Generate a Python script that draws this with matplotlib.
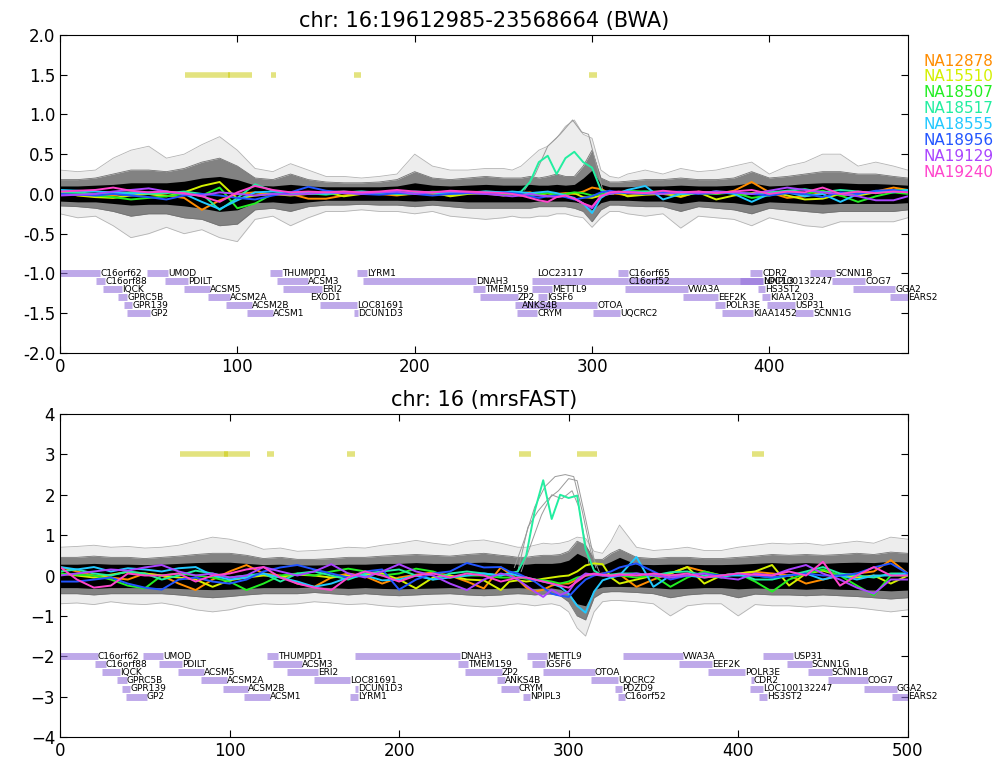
import numpy as np
import matplotlib.pyplot as plt

# sample names / colours
samples = ['NA12878', 'NA15510', 'NA18507', 'NA18517', 'NA18555', 'NA18956', 'NA19129', 'NA19240']
colors = ['#ff8c00', '#d4f000', '#22ee22', '#22eea0', '#22c8ff', '#2255ff', '#aa44ff', '#ff44cc']

# ---------------- top panel (BWA) ----------------
xt = list(range(0, 251, 10)) + list(range(255, 321, 5)) + list(range(330, 471, 10)) + [478]

top_outer_hi = [0.30,0.28,0.30,0.45,0.55,0.60,0.45,0.50,0.62,0.72,0.55,0.32,0.28,0.38,0.30,0.22,0.22,0.20,0.22,0.25,0.50,0.35,0.30,0.30,0.32,0.32,0.30,0.35,0.45,0.55,0.60,0.70,0.85,0.93,0.75,0.70,0.30,0.22,0.20,0.25,0.30,0.25,0.32,0.28,0.30,0.35,0.40,0.25,0.35,0.40,0.50,0.50,0.35,0.40,0.35,0.30]
top_outer_lo = [-0.25,-0.30,-0.28,-0.40,-0.55,-0.50,-0.42,-0.50,-0.45,-0.55,-0.60,-0.32,-0.28,-0.40,-0.30,-0.22,-0.22,-0.20,-0.22,-0.22,-0.25,-0.22,-0.28,-0.30,-0.32,-0.30,-0.28,-0.30,-0.30,-0.28,-0.28,-0.25,-0.25,-0.28,-0.30,-0.42,-0.30,-0.22,-0.22,-0.25,-0.28,-0.25,-0.43,-0.28,-0.30,-0.32,-0.40,-0.30,-0.35,-0.40,-0.42,-0.35,-0.35,-0.35,-0.35,-0.30]
top_mid_hi = [0.18,0.18,0.20,0.25,0.30,0.30,0.28,0.32,0.40,0.45,0.35,0.20,0.18,0.25,0.18,0.15,0.14,0.14,0.15,0.18,0.28,0.20,0.18,0.20,0.22,0.20,0.20,0.20,0.22,0.20,0.22,0.25,0.22,0.22,0.35,0.55,0.20,0.15,0.15,0.16,0.18,0.18,0.20,0.18,0.18,0.20,0.28,0.20,0.22,0.25,0.28,0.28,0.25,0.25,0.22,0.20]
top_mid_lo = [-0.15,-0.16,-0.18,-0.22,-0.28,-0.25,-0.25,-0.30,-0.32,-0.40,-0.38,-0.20,-0.18,-0.22,-0.16,-0.14,-0.14,-0.13,-0.14,-0.14,-0.16,-0.14,-0.16,-0.18,-0.18,-0.18,-0.18,-0.18,-0.18,-0.16,-0.16,-0.16,-0.16,-0.18,-0.22,-0.35,-0.20,-0.14,-0.14,-0.15,-0.16,-0.16,-0.22,-0.16,-0.18,-0.20,-0.25,-0.18,-0.20,-0.22,-0.24,-0.22,-0.22,-0.22,-0.22,-0.20]
top_core_hi = [0.10,0.10,0.11,0.12,0.14,0.14,0.14,0.16,0.20,0.22,0.18,0.11,0.10,0.12,0.10,0.09,0.09,0.09,0.09,0.10,0.14,0.11,0.10,0.11,0.12,0.11,0.11,0.11,0.12,0.11,0.11,0.12,0.11,0.12,0.20,0.30,0.12,0.09,0.09,0.09,0.10,0.10,0.11,0.10,0.10,0.11,0.14,0.10,0.11,0.13,0.14,0.14,0.13,0.13,0.12,0.11]
top_core_lo = [-0.09,-0.10,-0.10,-0.12,-0.14,-0.13,-0.13,-0.15,-0.18,-0.22,-0.20,-0.11,-0.10,-0.12,-0.10,-0.08,-0.08,-0.08,-0.08,-0.08,-0.09,-0.08,-0.09,-0.10,-0.10,-0.10,-0.10,-0.10,-0.10,-0.09,-0.09,-0.09,-0.09,-0.10,-0.12,-0.20,-0.11,-0.08,-0.08,-0.08,-0.09,-0.09,-0.12,-0.09,-0.10,-0.11,-0.14,-0.10,-0.11,-0.12,-0.13,-0.12,-0.12,-0.12,-0.12,-0.11]

top_NA12878 = [0.02,0.00,-0.03,-0.02,0.01,0.00,-0.02,-0.05,-0.20,-0.08,0.00,0.02,-0.01,0.00,-0.06,-0.06,-0.02,0.01,0.00,-0.02,0.01,0.00,-0.02,0.01,0.00,-0.01,0.00,0.01,0.02,-0.01,-0.02,0.00,0.01,0.00,0.03,0.08,0.06,0.01,0.00,-0.02,0.00,0.02,-0.04,0.03,0.00,0.04,0.15,0.02,-0.05,-0.03,0.02,-0.02,0.01,0.03,0.08,0.05]
top_NA15510 = [0.03,-0.02,-0.04,-0.05,-0.02,0.00,-0.03,0.02,0.10,0.15,-0.06,-0.02,0.00,-0.02,0.00,0.02,-0.03,0.00,0.02,-0.01,0.00,0.02,-0.03,0.00,0.01,-0.02,0.00,-0.02,0.01,0.00,-0.03,-0.01,0.00,0.01,-0.04,-0.05,-0.02,0.00,0.02,-0.03,-0.01,0.00,-0.03,0.02,-0.07,-0.02,0.01,0.03,-0.02,-0.07,-0.06,0.00,-0.02,0.02,0.05,0.03]
top_NA18507 = [0.00,0.01,-0.02,-0.04,-0.07,-0.05,-0.03,0.00,-0.02,0.08,-0.18,-0.12,0.00,0.02,0.01,-0.01,0.02,0.03,0.01,0.02,0.00,0.03,0.02,0.01,0.02,0.00,-0.01,0.00,-0.02,0.00,0.01,-0.01,0.00,0.02,0.01,-0.02,0.00,0.01,0.02,0.04,0.03,0.03,0.02,0.01,0.00,0.02,-0.05,-0.02,0.03,0.00,0.04,-0.02,-0.10,-0.03,0.02,0.00]
top_NA18517 = [0.03,0.02,0.00,0.01,0.02,0.00,0.01,0.03,0.00,-0.20,-0.05,0.12,0.04,0.01,0.00,0.02,0.03,0.01,0.02,0.00,0.01,0.02,0.00,0.01,0.03,0.02,0.01,0.03,0.15,0.40,0.48,0.25,0.45,0.53,0.40,0.33,0.05,0.00,0.02,0.01,0.03,0.02,0.00,0.01,0.03,0.02,0.00,0.02,0.04,0.06,0.02,0.05,0.03,0.01,0.04,0.05]
top_NA18555 = [0.05,0.04,0.03,0.02,0.00,0.02,0.03,0.00,-0.10,-0.19,-0.08,0.02,0.03,0.02,0.01,0.00,0.02,0.03,0.02,0.01,0.03,0.02,0.01,0.02,0.03,0.02,0.03,0.02,0.01,0.02,0.03,0.01,-0.02,-0.05,-0.12,-0.24,-0.05,0.02,0.01,0.05,0.10,-0.07,0.00,0.01,0.03,0.00,-0.10,0.00,0.02,-0.03,0.00,-0.10,0.00,0.03,0.02,0.05]
top_NA18956 = [0.00,-0.01,-0.02,0.00,-0.02,-0.04,-0.07,-0.02,0.00,-0.02,-0.05,-0.07,-0.02,0.02,0.09,0.04,0.02,0.00,-0.01,0.01,0.00,-0.02,0.00,0.01,0.00,0.02,0.01,0.00,-0.03,-0.05,-0.03,-0.02,-0.04,-0.07,-0.05,-0.03,0.02,0.04,0.02,0.01,0.00,0.02,0.03,0.00,0.01,0.02,0.00,-0.02,0.01,0.00,-0.04,0.02,0.00,0.04,0.05,0.02]
top_NA19129 = [-0.02,-0.01,0.00,0.03,0.05,0.07,0.03,0.00,-0.02,0.02,0.00,-0.02,0.00,-0.01,0.00,0.02,0.01,0.00,0.02,0.03,0.00,0.02,0.03,0.02,0.00,-0.02,-0.03,-0.02,0.00,-0.02,-0.03,-0.04,-0.02,-0.06,-0.12,-0.18,-0.02,0.00,0.02,0.03,0.01,0.00,0.02,0.01,0.03,0.02,0.00,0.04,0.08,0.05,0.02,0.00,-0.03,-0.08,-0.08,-0.03]
top_NA19240 = [0.03,0.04,0.05,0.08,0.04,0.02,0.03,0.01,-0.03,-0.10,0.02,0.10,0.05,0.02,0.03,0.02,0.03,0.02,0.03,0.05,0.03,0.02,0.04,0.03,0.02,0.01,0.00,-0.02,-0.05,-0.08,-0.10,-0.04,-0.02,-0.06,-0.12,-0.16,-0.03,0.02,0.03,0.02,0.01,0.04,0.02,0.03,0.01,0.03,0.05,0.00,0.03,0.02,0.08,0.00,0.03,0.01,0.03,0.02]

# single high grey trace near the NA18517 gain
top_spike_x = [262, 268, 275, 282, 289, 294, 298, 302, 306, 312]
top_spike_y = [0.05, 0.25, 0.60, 0.75, 0.93, 0.78, 0.75, 0.40, 0.05, 0.00]

top_seg_start = [70.5, 95, 119, 166, 298]
top_seg_end = [96, 108.3, 122, 170, 303]

top_gene_names = ['C16orf62', 'UMOD', 'THUMPD1', 'LYRM1', 'LOC23117', 'C16orf65', 'CDR2', 'SCNN1B',
                  'C16orf88', 'PDILT', 'ACSM3', 'DNAH3', 'C16orf52', 'NPIPL3', 'LOC100132247', 'COG7',
                  'IQCK', 'ACSM5', 'ERI2', 'TMEM159', 'METTL9', 'VWA3A', 'HS3ST2', 'GGA2',
                  'GPRC5B', 'ACSM2A', 'EXOD1', 'ZP2', 'IGSF6', 'EEF2K', 'KIAA1203', 'EARS2',
                  'GPR139', 'ACSM2B', 'LOC81691', 'ANKS4B', 'OTOA', 'POLR3E', 'USP31',
                  'GP2', 'ACSM1', 'DCUN1D3', 'CRYM', 'UQCRC2', 'KIAA1452', 'SCNN1G']
top_gene_rows = [0]*8 + [1]*8 + [2]*8 + [3]*8 + [4]*7 + [5]*7
top_gene_start = [0, 49.1, 118.4, 167.5, 269, 314.7, 389.2, 423,
                  20.3, 59.2, 122.4, 170.9, 266.2, 320.4, 383.5, 435.4,
                  24.3, 69.9, 125.8, 232.9, 266.2, 318.7, 393.7, 447.3,
                  32.7, 83.5, 141, 236.9, 269.6, 351.4, 396, 468.1,
                  36.1, 93.6, 146.6, 256.6, 260.6, 369.4, 398.8,
                  37.8, 105.5, 165.8, 257.8, 300.6, 373.4, 414.6]
top_gene_end = [22.6, 60.9, 125.2, 173.2, 269, 320.4, 396, 437.1,
                25.4, 72.2, 139.9, 234.6, 320.4, 396.5, 396.5, 454,
                35, 84.6, 147.8, 239.7, 277.5, 354.2, 397.6, 470.9,
                37.8, 95.9, 141, 258.3, 274.7, 371.1, 400.5, 478.3,
                40.6, 108.3, 167.5, 260.6, 302.9, 375.1, 414.6,
                50.8, 120.1, 168.1, 269, 315.8, 390.9, 424.7]

# ---------------- bottom panel (mrsFAST) ----------------
xb = list(range(0, 261, 10)) + list(range(265, 331, 5)) + list(range(340, 501, 10))

bot_outer_hi = [0.70,0.72,0.75,0.70,0.72,0.68,0.70,0.75,0.85,0.95,0.90,0.80,0.65,0.68,0.60,0.62,0.65,0.70,0.68,0.75,0.80,0.87,0.80,0.75,0.85,0.88,0.80,0.75,0.70,0.70,0.75,0.80,0.78,0.80,0.85,0.95,0.92,0.60,0.55,0.85,1.25,0.70,0.62,0.65,0.70,0.62,0.62,0.70,0.75,0.80,0.78,0.80,0.75,0.80,0.85,0.80,0.95,0.90]
bot_outer_lo = [-0.70,-0.68,-0.72,-0.65,-0.70,-0.72,-0.68,-0.75,-0.85,-0.90,-0.85,-0.75,-0.70,-0.72,-0.70,-0.65,-0.68,-0.72,-0.70,-0.75,-0.78,-0.75,-0.72,-0.70,-0.75,-0.78,-0.75,-0.72,-0.70,-0.72,-0.75,-0.72,-0.70,-0.75,-0.90,-1.30,-1.50,-0.90,-0.65,-0.62,-0.62,-0.65,-0.70,-1.00,-0.75,-0.70,-0.70,-1.00,-0.72,-0.75,-0.75,-0.78,-0.75,-0.78,-0.80,-0.85,-0.90,-0.85]
bot_mid_hi = [0.45,0.45,0.48,0.45,0.45,0.42,0.45,0.48,0.52,0.55,0.55,0.50,0.42,0.45,0.40,0.40,0.42,0.45,0.45,0.48,0.50,0.52,0.50,0.48,0.52,0.55,0.50,0.48,0.45,0.45,0.48,0.50,0.50,0.52,0.60,0.85,0.75,0.40,0.40,0.55,0.65,0.45,0.42,0.45,0.45,0.42,0.42,0.45,0.48,0.52,0.50,0.52,0.50,0.52,0.55,0.52,0.58,0.55]
bot_mid_lo = [-0.45,-0.45,-0.48,-0.45,-0.45,-0.45,-0.45,-0.48,-0.52,-0.55,-0.52,-0.48,-0.45,-0.45,-0.45,-0.42,-0.45,-0.48,-0.45,-0.48,-0.50,-0.48,-0.46,-0.45,-0.48,-0.50,-0.48,-0.46,-0.45,-0.46,-0.48,-0.46,-0.46,-0.50,-0.65,-1.00,-1.10,-0.55,-0.42,-0.40,-0.40,-0.42,-0.45,-0.55,-0.48,-0.45,-0.45,-0.55,-0.46,-0.48,-0.48,-0.50,-0.48,-0.50,-0.52,-0.55,-0.58,-0.55]
bot_core_hi = [0.28,0.28,0.30,0.28,0.28,0.27,0.28,0.30,0.32,0.33,0.33,0.30,0.27,0.28,0.26,0.26,0.27,0.28,0.28,0.30,0.30,0.32,0.30,0.30,0.32,0.33,0.31,0.30,0.28,0.28,0.30,0.30,0.30,0.32,0.38,0.55,0.45,0.26,0.26,0.35,0.45,0.28,0.27,0.28,0.28,0.27,0.27,0.28,0.30,0.32,0.30,0.32,0.30,0.32,0.33,0.32,0.35,0.33]
bot_core_lo = [-0.30,-0.30,-0.32,-0.30,-0.30,-0.30,-0.30,-0.32,-0.34,-0.35,-0.34,-0.32,-0.30,-0.30,-0.30,-0.28,-0.30,-0.32,-0.30,-0.32,-0.33,-0.32,-0.31,-0.30,-0.32,-0.33,-0.32,-0.31,-0.30,-0.31,-0.32,-0.31,-0.31,-0.34,-0.45,-0.70,-0.75,-0.35,-0.28,-0.27,-0.27,-0.28,-0.30,-0.33,-0.32,-0.30,-0.30,-0.33,-0.31,-0.32,-0.32,-0.34,-0.32,-0.34,-0.35,-0.36,-0.38,-0.36]

bot_NA12878 = [0.21,0.10,0.00,-0.05,-0.10,0.05,0.00,-0.20,-0.36,-0.10,0.10,0.26,0.05,0.00,-0.20,-0.28,-0.05,0.05,-0.02,-0.20,-0.05,0.02,0.08,0.00,-0.15,-0.32,0.20,0.05,-0.10,-0.30,-0.40,-0.35,-0.25,-0.20,-0.20,-0.10,0.00,0.02,0.05,0.00,0.03,-0.28,-0.10,0.05,0.21,0.10,0.00,0.05,0.09,0.05,0.00,-0.20,-0.10,0.00,0.05,0.10,0.38,0.05]
bot_NA15510 = [0.05,0.00,-0.05,0.02,0.09,0.05,0.00,-0.05,-0.10,-0.28,-0.12,-0.05,0.00,-0.03,0.02,0.00,-0.05,0.00,0.02,0.05,-0.10,-0.32,-0.05,0.00,-0.10,-0.12,-0.36,-0.15,-0.12,-0.15,-0.12,-0.08,-0.05,-0.02,0.00,0.10,0.25,0.30,0.28,-0.05,-0.20,-0.10,0.00,0.05,0.21,-0.20,0.00,0.05,0.10,0.26,-0.25,0.05,0.12,0.00,-0.05,0.00,-0.20,0.00]
bot_NA18507 = [0.05,0.02,0.00,-0.10,-0.25,-0.32,0.00,0.05,0.00,-0.05,-0.15,-0.36,-0.20,0.00,0.05,0.00,0.10,0.17,0.10,0.00,0.05,0.17,0.10,-0.05,0.00,0.00,-0.05,-0.05,-0.05,-0.08,-0.10,-0.12,-0.15,-0.20,-0.15,-0.05,0.00,0.02,0.00,0.02,0.00,-0.05,0.00,-0.28,-0.05,0.10,0.00,0.05,-0.15,-0.40,-0.10,0.05,0.15,0.00,-0.25,-0.49,0.00,0.00]
bot_NA18517 = [0.10,0.15,0.05,0.00,0.10,0.05,-0.10,0.00,0.12,0.05,-0.05,0.00,0.05,-0.15,0.05,0.10,0.00,-0.10,0.05,0.10,0.15,0.00,-0.10,0.05,0.10,0.05,0.00,0.05,0.10,0.50,1.60,2.36,1.40,2.00,1.92,1.98,0.65,0.12,0.00,0.02,0.05,0.05,0.00,0.08,0.10,0.00,-0.05,0.05,-0.10,-0.10,0.00,0.10,0.21,0.05,0.00,-0.05,0.05,0.05]
bot_NA18555 = [0.21,0.15,0.21,0.10,0.18,0.15,0.10,0.18,0.21,0.00,-0.10,-0.05,0.05,-0.05,-0.15,-0.28,-0.20,-0.05,0.00,-0.12,-0.10,0.00,-0.10,-0.05,0.00,0.05,0.00,0.05,0.00,-0.05,-0.10,-0.15,-0.20,-0.28,-0.45,-0.75,-0.92,-0.40,-0.12,-0.05,0.00,0.46,-0.28,0.00,0.00,-0.05,0.00,0.00,0.00,-0.05,0.00,0.05,-0.10,0.00,-0.10,0.00,0.00,0.05]
bot_NA18956 = [-0.15,-0.15,-0.10,-0.05,-0.20,-0.30,-0.35,-0.10,-0.05,-0.15,-0.20,-0.10,0.10,0.20,0.26,0.15,0.05,-0.05,0.10,0.15,-0.35,-0.10,0.05,0.10,0.31,0.20,0.21,0.10,0.05,-0.05,-0.15,-0.30,-0.45,-0.50,-0.53,-0.30,-0.10,0.00,0.05,0.10,0.20,0.30,0.10,-0.10,0.00,0.05,0.00,0.05,0.00,-0.05,0.00,0.05,0.00,0.00,0.05,0.20,0.30,0.05]
bot_NA19129 = [0.00,0.05,0.10,0.15,0.12,0.20,0.26,0.10,0.00,0.05,-0.05,0.00,0.21,0.10,0.00,0.10,0.28,0.05,-0.05,0.10,0.28,0.10,0.00,-0.20,-0.36,-0.10,0.05,0.00,-0.10,-0.25,-0.40,-0.53,-0.35,-0.48,-0.40,-0.10,0.05,0.02,0.00,-0.02,0.00,0.05,0.00,-0.05,0.00,0.05,-0.05,-0.10,0.05,0.00,0.15,0.26,0.05,-0.10,-0.30,-0.45,-0.10,-0.10]
bot_NA19240 = [0.21,-0.10,-0.30,-0.25,0.05,0.00,0.00,0.05,-0.15,0.00,0.05,0.15,0.21,-0.05,-0.20,-0.30,-0.36,-0.05,0.10,0.00,-0.15,0.00,0.05,-0.05,0.05,0.00,-0.15,-0.10,-0.05,-0.05,-0.10,-0.15,-0.20,-0.25,-0.30,-0.15,0.00,0.05,0.02,0.00,0.03,0.00,0.05,0.00,0.05,-0.05,0.00,0.05,0.02,0.00,0.10,0.00,0.34,-0.25,0.00,0.21,0.00,0.00]

# grey traces that follow the NA18517 gain
bot_spike1_x = [268, 274, 280, 286, 292, 298, 303, 308, 313, 318]
bot_spike1_y = [0.20, 0.90, 1.70, 2.20, 2.45, 2.50, 2.45, 1.60, 0.60, 0.10]
bot_spike2_x = [270, 276, 282, 288, 294, 300, 305, 310, 316]
bot_spike2_y = [0.10, 1.20, 1.60, 1.90, 2.10, 2.40, 2.35, 1.40, 0.20]
bot_spike3_x = [272, 278, 284, 290, 296, 302, 306, 312]
bot_spike3_y = [0.10, 0.80, 1.50, 2.00, 1.90, 2.10, 1.70, 0.30]

bot_seg_start = [70.8, 97, 122, 169, 270.6, 305, 408]
bot_seg_end = [99, 112, 126, 174, 278, 317, 415]

bot_gene_names = ['C16orf62', 'UMOD', 'THUMPD1', 'DNAH3', 'METTL9', 'VWA3A', 'USP31',
                  'C16orf88', 'PDILT', 'ACSM3', 'TMEM159', 'IGSF6', 'EEF2K', 'SCNN1G',
                  'IQCK', 'ACSM5', 'ERI2', 'ZP2', 'OTOA', 'POLR3E', 'SCNN1B',
                  'GPRC5B', 'ACSM2A', 'LOC81691', 'ANKS4B', 'UQCRC2', 'CDR2', 'COG7',
                  'GPR139', 'ACSM2B', 'DCUN1D3', 'CRYM', 'PDZD9', 'LOC100132247', 'GGA2',
                  'GP2', 'ACSM1', 'LYRM1', 'NPIPL3', 'C16orf52', 'HS3ST2', 'EARS2']
bot_gene_rows = [0]*7 + [1]*7 + [2]*7 + [3]*7 + [4]*7 + [5]*7
bot_gene_start = [0, 48.9, 122, 173.9, 275.4, 332, 414.5,
                  20.6, 58.4, 125.6, 234.7, 278.3, 365, 428.7,
                  24.8, 69.6, 133.8, 238.8, 284.8, 382.1, 441,
                  33.6, 83.1, 149.8, 257.7, 313.1, 407.4, 452.8,
                  36.6, 96.1, 173.9, 260, 327.2, 406.8, 474,
                  38.9, 108.5, 171, 273, 329, 412.1, 490.6]
bot_gene_end = [22.4, 60.7, 128.5, 235.8, 287.1, 367.3, 432.2,
                27.1, 71.9, 142.7, 240.6, 286, 384.4, 443.4,
                35.4, 84.9, 152.1, 260.6, 315.4, 403.9, 455.2,
                39.5, 98.5, 171, 262.4, 329, 409.2, 476.4,
                41.3, 110.8, 175.7, 270.6, 331.4, 414.5, 493.5,
                51.3, 123.8, 175.7, 277.1, 333.1, 416.9, 500]


def draw_panel(ax, x, outer, mid, core, series, spikes, segs, seg_y, genes, row0, row_step, title):
    # the black bundle of all other samples, drawn as nested envelopes
    ax.fill_between(x, outer[0], outer[1], color='black', alpha=0.07, lw=0)
    ax.plot(x, outer[0], color='0.7', lw=0.6)
    ax.plot(x, outer[1], color='0.7', lw=0.6)
    ax.fill_between(x, mid[0], mid[1], color='black', alpha=0.45, lw=0)
    ax.plot(x, mid[0], color='0.45', lw=0.6)
    ax.plot(x, mid[1], color='0.45', lw=0.6)
    ax.fill_between(x, core[0], core[1], color='black', lw=0)
    for sx, sy in spikes:
        ax.plot(sx, sy, color='0.6', lw=0.7)
    for vals, c in zip(series, colors):
        ax.plot(x, vals, color=c, lw=1.4)
    for s, e in zip(*segs):
        ax.plot([s, e], [seg_y, seg_y], color='#c8c800', alpha=0.5, lw=4, solid_capstyle='butt')
    names, rows, starts, ends = genes
    for n, r, s, e in zip(names, rows, starts, ends):
        y = row0 - row_step * r
        ax.plot([s, e], [y, y], color='mediumpurple', alpha=0.6, lw=5, solid_capstyle='butt')
        ax.text(e, y, n, fontsize=6.5, ha='left', va='center')
    ax.set_title(title, fontsize=15)
    ax.tick_params(direction='in', top=True, right=True, labelsize=12, length=5)


fig = plt.figure(figsize=(9.95, 7.59), dpi=100)
ax1 = fig.add_axes([0.0603, 0.535, 0.852, 0.419])
ax2 = fig.add_axes([0.0603, 0.029, 0.852, 0.4255])

draw_panel(ax1, xt, (top_outer_lo, top_outer_hi), (top_mid_lo, top_mid_hi), (top_core_lo, top_core_hi),
           [top_NA12878, top_NA15510, top_NA18507, top_NA18517, top_NA18555, top_NA18956, top_NA19129, top_NA19240],
           [(top_spike_x, top_spike_y)], (top_seg_start, top_seg_end), 1.5,
           (top_gene_names, top_gene_rows, top_gene_start, top_gene_end), -1.0, 0.1,
           'chr: 16:19612985-23568664 (BWA)')
ax1.set_xlim(0, 478)
ax1.set_ylim(-2, 2)
ax1.set_yticks(np.arange(-2, 2.01, 0.5))
ax1.set_yticklabels(['%.1f' % v for v in np.arange(-2, 2.01, 0.5)])
ax1.set_xticks([0, 100, 200, 300, 400])

draw_panel(ax2, xb, (bot_outer_lo, bot_outer_hi), (bot_mid_lo, bot_mid_hi), (bot_core_lo, bot_core_hi),
           [bot_NA12878, bot_NA15510, bot_NA18507, bot_NA18517, bot_NA18555, bot_NA18956, bot_NA19129, bot_NA19240],
           [(bot_spike1_x, bot_spike1_y), (bot_spike2_x, bot_spike2_y), (bot_spike3_x, bot_spike3_y)],
           (bot_seg_start, bot_seg_end), 3.0,
           (bot_gene_names, bot_gene_rows, bot_gene_start, bot_gene_end), -2.0, 0.2,
           'chr: 16 (mrsFAST)')
ax2.set_xlim(0, 500)
ax2.set_ylim(-4, 4)
ax2.set_xticks([0, 100, 200, 300, 400, 500])

# sample legend at the right
for i, (name, c) in enumerate(zip(samples, colors)):
    fig.text(0.928, 1 - (61 + 15.9 * i) / 759, name, color=c, fontsize=11, ha='left', va='center')

fig.savefig('out.png', dpi=100)
